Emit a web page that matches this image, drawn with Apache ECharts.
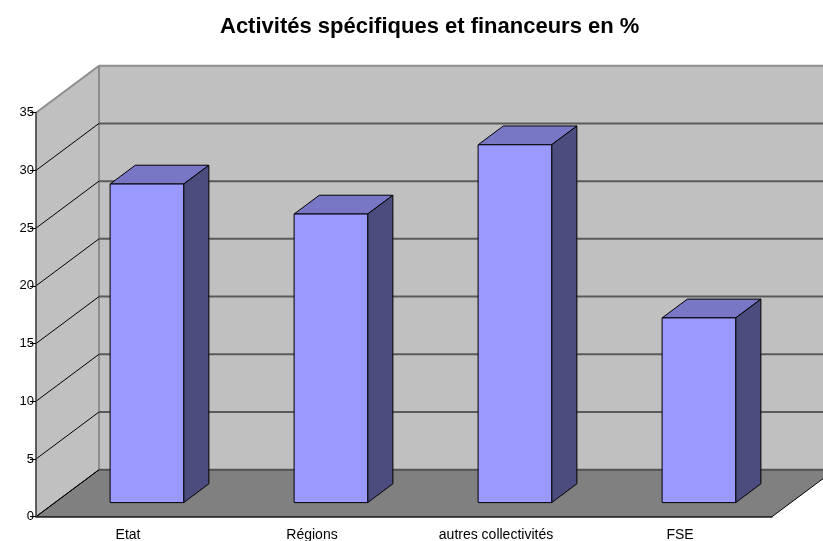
<!DOCTYPE html>
<html>
<head>
<meta charset="utf-8">
<script src="https://cdn.jsdelivr.net/npm/echarts@6/dist/echarts.min.js"></script>
<style>
  html, body { margin: 0; padding: 0; background: #fff; }
  #main { width: 823px; height: 541px; }
</style>
</head>
<body>
<div id="main"></div>
<script>
// données
var categories = ['Etat', 'Régions', 'autres collectivités', 'FSE'];
var values = [27.6, 25.0, 31.0, 16.0];
var yTicks = [0, 5, 10, 15, 20, 25, 30, 35];

// perspective (décalage de la profondeur)
var DX = 63, DY = -47;
var BAR_FRONT = 0.3, BAR_DEPTH = 0.4, BAR_W = 0.4;

var chart = echarts.init(document.getElementById('main'));

function wallItem(params, api) {
  var v = api.value(1);
  var nCat = categories.length;
  var bw = api.size([1, 0])[0];
  var xL = api.coord([0, 0])[0] - bw / 2;
  var xR = api.coord([nCat - 1, 0])[0] + bw / 2;
  var y0 = api.coord([0, 0])[1];
  var yTop = api.coord([0, yTicks[yTicks.length - 1]])[1];
  var yv = api.coord([0, v])[1];
  var children = [];
  if (v === 0) {
    // mur du fond
    children.push({ type: 'polygon', shape: { points: [[xL + DX, yTop + DY], [xR + DX, yTop + DY], [xR + DX, y0 + DY], [xL + DX, y0 + DY]] },
      style: { fill: '#c0c0c0', stroke: null } });
    // mur gauche
    children.push({ type: 'polygon', shape: { points: [[xL, y0], [xL, yTop], [xL + DX, yTop + DY], [xL + DX, y0 + DY]] },
      style: { fill: '#c0c0c0', stroke: null } });
    // sol
    children.push({ type: 'polygon', shape: { points: [[xL, y0], [xR, y0], [xR + DX, y0 + DY], [xL + DX, y0 + DY]] },
      style: { fill: '#808080', stroke: '#000', lineWidth: 1 } });
    children.push({ type: 'line', shape: { x1: xL + DX, y1: yTop + DY, x2: xL + DX, y2: y0 + DY },
      style: { stroke: '#8c8c8c', lineWidth: 2 } });
    children.push({ type: 'line', shape: { x1: xL + DX, y1: y0 + DY, x2: xR + DX, y2: y0 + DY },
      style: { stroke: '#555', lineWidth: 2 } });
    children.push({ type: 'line', shape: { x1: xL, y1: y0, x2: xL + DX, y2: y0 + DY },
      style: { stroke: '#000', lineWidth: 1 } });
    return { type: 'group', children: children };
  }
  var top = v === yTicks[yTicks.length - 1];
  children.push({ type: 'line', shape: { x1: xL + DX, y1: yv + DY, x2: xR + DX, y2: yv + DY },
    style: { stroke: top ? '#8c8c8c' : '#5a5a5a', lineWidth: 2 } });
  children.push({ type: 'line', shape: { x1: xL, y1: yv, x2: xL + DX, y2: yv + DY },
    style: { stroke: top ? '#8c8c8c' : '#000', lineWidth: top ? 2 : 1 } });
  return { type: 'group', children: children };
}

function barItem(params, api) {
  var i = api.value(0);
  var c0 = api.coord([i, 0]);
  var c1 = api.coord([i, api.value(1)]);
  var w = api.size([1, 0])[0] * BAR_W;
  var xl = c0[0] + DX * BAR_FRONT - w / 2;
  var xr = xl + w;
  var yb = c0[1] + DY * BAR_FRONT;
  var yt = c1[1] + DY * BAR_FRONT;
  var bdx = DX * BAR_DEPTH, bdy = DY * BAR_DEPTH;
  var line = { stroke: '#000', lineWidth: 1, lineJoin: 'miter' };
  return {
    type: 'group',
    children: [
      { type: 'polygon', shape: { points: [[xl, yt], [xr, yt], [xr + bdx, yt + bdy], [xl + bdx, yt + bdy]] },
        style: Object.assign({ fill: '#7777c6' }, line) },
      { type: 'polygon', shape: { points: [[xr, yt], [xr + bdx, yt + bdy], [xr + bdx, yb + bdy], [xr, yb]] },
        style: Object.assign({ fill: '#4c4c7f' }, line) },
      { type: 'rect', shape: { x: xl, y: yt, width: w, height: yb - yt },
        style: Object.assign({ fill: '#9999ff' }, line) }
    ]
  };
}

var option = {
  animation: false,
  title: {
    text: 'Activités spécifiques et financeurs en %',
    left: 215,
    top: 11,
    textStyle: { fontFamily: 'Liberation Sans', fontSize: 22, fontWeight: 'bold', color: '#000' }
  },
  grid: { left: 36, right: 51, top: 112.7, bottom: 24.3, outerBoundsMode: 'none', containLabel: false },
  xAxis: {
    type: 'category',
    data: categories,
    z: 10,
    axisLine: { lineStyle: { color: '#333', width: 1.5 } },
    axisTick: { length: 6, lineStyle: { color: '#777' } },
    axisLabel: { fontFamily: 'Liberation Sans', fontSize: 14, color: '#000', margin: 11, interval: 0 },
    splitLine: { show: false }
  },
  yAxis: {
    type: 'value',
    min: 0, max: 35, interval: 5,
    z: 10,
    axisLine: { show: true, lineStyle: { color: '#333', width: 1.5 } },
    axisTick: { show: true, length: 6, lineStyle: { color: '#000' } },
    axisLabel: { fontFamily: 'Liberation Sans', fontSize: 13, color: '#000', margin: 2 },
    splitLine: { show: false }
  },
  series: [
    {
      type: 'custom',
      z: 1,
      silent: true,
      renderItem: wallItem,
      data: yTicks.map(function (v) { return [0, v]; })
    },
    {
      type: 'custom',
      z: 3,
      renderItem: barItem,
      data: values.map(function (v, i) { return [i, v]; })
    }
  ]
};

chart.setOption(option);
</script>
</body>
</html>
